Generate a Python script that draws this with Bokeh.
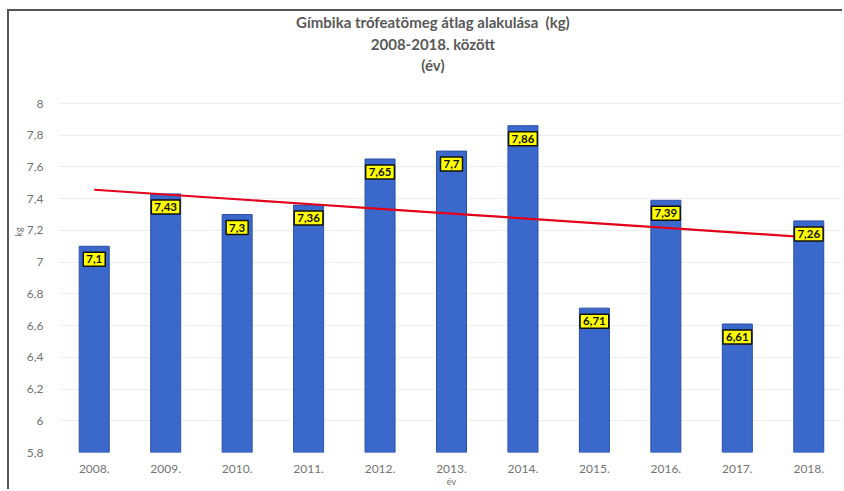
import numpy as np
from bokeh.plotting import figure
from bokeh.models import (ColumnDataSource, FactorRange, Range1d, Label,
                          FixedTicker, CustomJSTickFormatter)
from bokeh.embed import file_html
from bokeh.resources import INLINE

years = ["2008.", "2009.", "2010.", "2011.", "2012.", "2013.", "2014.",
         "2015.", "2016.", "2017.", "2018."]
values = [7.1, 7.43, 7.3, 7.36, 7.65, 7.7, 7.86, 6.71, 7.39, 6.61, 7.26]
y_ticks = [5.8, 6.0, 6.2, 6.4, 6.6, 6.8, 7.0, 7.2, 7.4, 7.6, 7.8, 8.0]
title_lines = ["Gímbika trófeatömeg átlag alakulása\u00a0 (kg)", "2008-2018. között", "(év)"]

labels = [str(v).replace(".", ",") for v in values]
idx = np.arange(len(values))
slope, intercept = np.polyfit(idx, values, 1)
trend = list(slope * idx + intercept)

src = ColumnDataSource(dict(year=years, value=values, label=labels, trend=trend))

FONT = "Lato"

# the frame runs to the top of the figure so that the title labels sit inside it
p = figure(width=835, height=480, x_range=FactorRange(*years, range_padding=0),
           y_range=Range1d(5.8, 8.58), output_backend="svg", toolbar_location=None,
           min_border_left=48, min_border_right=0, min_border_top=0, min_border_bottom=39)
p.styles = {"border-left": "2px solid #555555", "border-top": "2px solid #555555",
            "margin-left": "7px", "margin-top": "9px"}
p.outline_line_color = None

p.vbar(x="year", top="value", bottom=5.8, width=0.42, source=src,
       fill_color="#3a68cb", line_color="#2b50a8", line_width=1)
p.line(x="year", y="trend", source=src, line_color="#e3001b", line_width=2.2)

# synthetic categorical coordinate of each bar centre
for i, (v, lab) in enumerate(zip(values, labels)):
    p.add_layout(Label(x=i + 0.5, y=v, text=lab, y_offset=-13,
                       text_align="center", text_baseline="middle", text_font=FONT,
                       text_font_style="bold", text_font_size="11.5px", text_color="#111111",
                       background_fill_color="#ffff00", border_line_color="#111111",
                       border_line_width=1.5, padding=3))

title_y = [8.511, 8.378, 8.24]
for t, ty in zip(title_lines, title_y):
    p.add_layout(Label(x=5.24, y=ty, text=t, text_align="center", text_baseline="middle",
                       text_font=FONT, text_font_style="bold", text_font_size="15px",
                       text_color="#595959"))

p.yaxis.ticker = FixedTicker(ticks=y_ticks)
p.yaxis.formatter = CustomJSTickFormatter(
    code="return (Math.round(tick*10)/10).toString().replace('.', ',');")
for ax in (p.xaxis[0], p.yaxis[0]):
    ax.axis_line_color = None
    ax.major_tick_line_color = None
    ax.minor_tick_line_color = None
    ax.major_label_text_color = "#737373"
    ax.major_label_text_font = FONT
    ax.major_label_text_font_size = "12px"
    ax.axis_label_text_font = FONT
    ax.axis_label_text_font_size = "9px"
    ax.axis_label_text_font_style = "normal"
    ax.axis_label_text_color = "#6e6e6e"
p.yaxis.axis_label = "kg"
p.xaxis.axis_label = "év"
p.yaxis.major_label_standoff = 9
p.yaxis.axis_label_standoff = 0
p.xaxis.major_label_standoff = 6
p.xaxis.axis_label_standoff = 0

p.xgrid.grid_line_color = None
p.ygrid.grid_line_color = "#eeeeee"
p.ygrid.ticker = FixedTicker(ticks=y_ticks)

open("out.html", "w").write(file_html(p, INLINE))
